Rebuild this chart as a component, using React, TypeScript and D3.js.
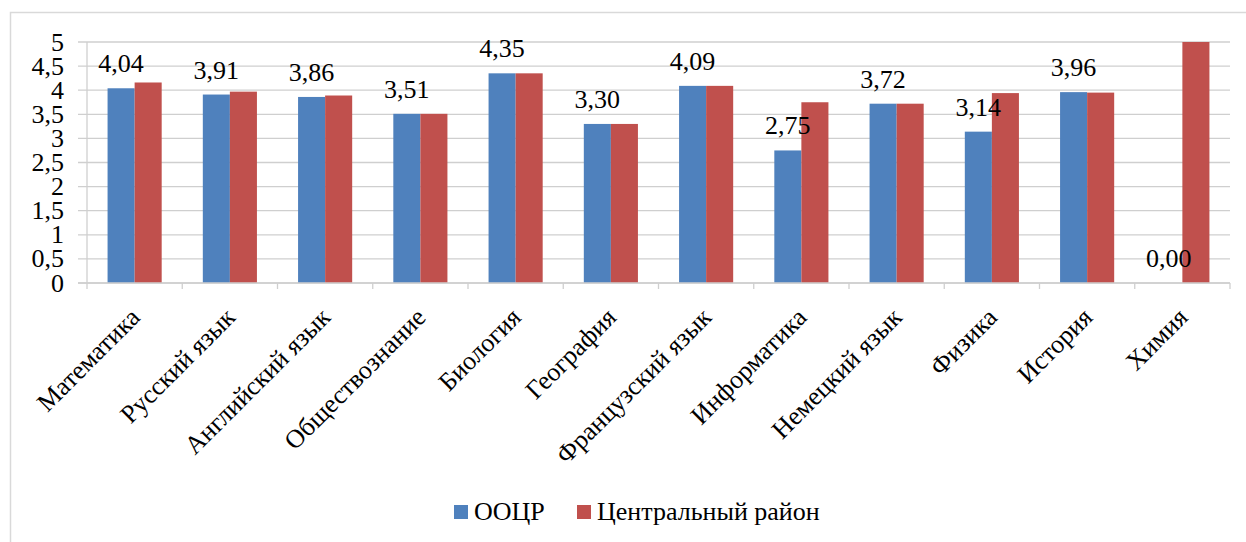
import React from "react";
import * as d3 from "d3";

const categories = [
  "Математика",
  "Русский язык",
  "Английский язык",
  "Обществознание",
  "Биология",
  "География",
  "Французский язык",
  "Информатика",
  "Немецкий язык",
  "Физика",
  "История",
  "Химия",
];
const seriesNames = ["ООЦР", "Центральный район"];
const oocr = [4.04, 3.91, 3.86, 3.51, 4.35, 3.3, 4.09, 2.75, 3.72, 3.14, 3.96, 0.0];
const central = [4.16, 3.97, 3.89, 3.51, 4.35, 3.3, 4.09, 3.75, 3.72, 3.94, 3.95, 5.0];
const yTicks = [0, 0.5, 1, 1.5, 2, 2.5, 3, 3.5, 4, 4.5, 5];
const colors = ["#4F81BD", "#C0504D"];

const W = 1246;
const H = 542;
const FONT = "Liberation Serif";
const FS = 26;

export default function App() {
  const x0 = 87;
  const x1 = 1230;
  const yTop = 42;
  const yBot = 283;

  const x = d3.scaleBand<string>().domain(categories).range([x0, x1]).paddingInner(0).paddingOuter(0);
  const inner = d3
    .scaleBand<string>()
    .domain(["0", "1"])
    .range([0, x.bandwidth()])
    .paddingInner(0)
    .paddingOuter(0.76);
  const y = d3.scaleLinear().domain([0, 5]).range([yBot, yTop]);
  const fmt = (v: number) => v.toFixed(2).replace(".", ",");
  const series = [oocr, central];

  return (
    <svg width={W} height={H} style={{ position: "absolute", left: 0, top: 0, background: "#fff" }}>
      <rect x={0} y={0} width={W} height={H} fill="#fff" />
      <rect x={10.5} y={12.5} width={W + 20} height={H + 20} fill="none" stroke="#d9d9d9" strokeWidth={1.5} />
      {yTicks.map((t) => (
        <g key={t}>
          <line x1={78} x2={x1} y1={y(t)} y2={y(t)} stroke="#cfcfcf" strokeWidth={1.3} />
          <text x={64} y={y(t)} dy="0.33em" textAnchor="end" fontFamily={FONT} fontSize={FS} fill="#000">
            {String(t).replace(".", ",")}
          </text>
        </g>
      ))}
      <line x1={x0} x2={x0} y1={yTop} y2={yBot} stroke="#cfcfcf" strokeWidth={1.3} />
      {categories.map((c, i) => (
        <g key={c}>
          {series.map((s, k) => {
            const bx = (x(c) as number) + (inner(String(k)) as number);
            return (
              <rect
                key={k}
                x={bx}
                y={y(s[i])}
                width={inner.bandwidth()}
                height={yBot - y(s[i])}
                fill={colors[k]}
              />
            );
          })}
        </g>
      ))}
      {d3.range(categories.length + 1).map((i) => {
        const tx = i < categories.length ? (x(categories[i]) as number) : x1;
        return <line key={i} x1={tx} x2={tx} y1={yBot} y2={yBot + 6} stroke="#cfcfcf" strokeWidth={1.3} />;
      })}
      {categories.map((c, i) => {
        const cx = (x(c) as number) + (inner("0") as number) + inner.bandwidth() / 2;
        return (
          <text key={c} x={cx} y={y(oocr[i]) - 16} textAnchor="middle" fontFamily={FONT} fontSize={FS} fill="#000">
            {fmt(oocr[i])}
          </text>
        );
      })}
      <line x1={78} x2={x1} y1={yBot} y2={yBot} stroke="#cfcfcf" strokeWidth={1.3} />
      {categories.map((c) => {
        const cx = (x(c) as number) + x.bandwidth() / 2;
        return (
          <text
            key={c}
            transform={`translate(${cx - 6},${306}) rotate(-45)`}
            dy="0.7em"
            textAnchor="end"
            fontFamily={FONT}
            fontSize={FS}
            fill="#000"
          >
            {c}
          </text>
        );
      })}
      <g>
        <rect x={454} y={505} width={14} height={14} fill={colors[0]} />
        <text x={474} y={520} fontFamily={FONT} fontSize={FS} fill="#000">
          {seriesNames[0]}
        </text>
        <rect x={577} y={505} width={14} height={14} fill={colors[1]} />
        <text x={597} y={520} fontFamily={FONT} fontSize={FS} fill="#000">
          {seriesNames[1]}
        </text>
      </g>
    </svg>
  );
}
